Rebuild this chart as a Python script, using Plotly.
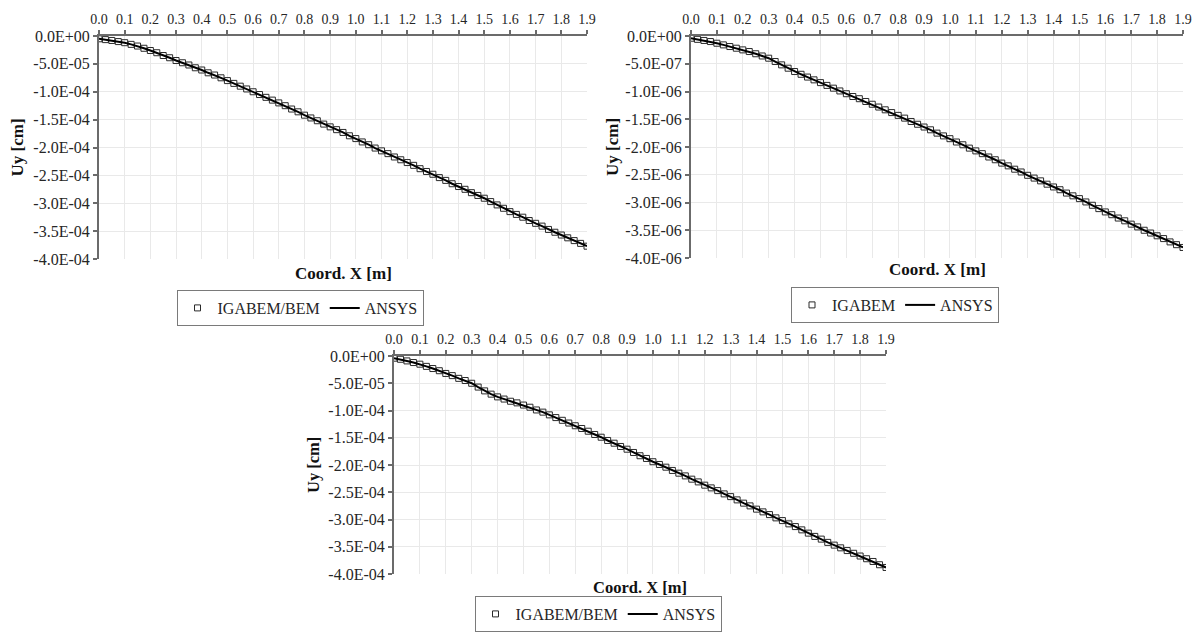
import plotly.graph_objects as go

# ---------------- data ----------------
x_coord = [round(i * 0.025, 3) for i in range(77)]  # Coord. X [m], 0.0 .. 1.9

# top-left chart, Uy in units of 1e-4 cm
uy_a_e4 = [-0.05, -0.065, -0.08, -0.10, -0.12, -0.15, -0.18, -0.22, -0.26, -0.30,
           -0.35, -0.39, -0.44, -0.48, -0.52, -0.57, -0.61, -0.66, -0.70, -0.75,
           -0.80, -0.85, -0.90, -0.95, -1.00, -1.05, -1.10, -1.15, -1.20, -1.25,
           -1.31, -1.36, -1.42, -1.47, -1.52, -1.58, -1.63, -1.68, -1.73, -1.79,
           -1.84, -1.90, -1.95, -2.01, -2.06, -2.11, -2.17, -2.22, -2.27, -2.32,
           -2.38, -2.43, -2.48, -2.54, -2.59, -2.65, -2.70, -2.75, -2.81, -2.86,
           -2.91, -2.97, -3.03, -3.09, -3.15, -3.20, -3.25, -3.31, -3.36, -3.41,
           -3.47, -3.52, -3.57, -3.62, -3.67, -3.72, -3.77]

# top-right chart, Uy in units of 1e-6 cm
uy_b_e6 = [-0.04, -0.06, -0.08, -0.10, -0.13, -0.16, -0.19, -0.22, -0.25, -0.28,
           -0.32, -0.36, -0.40, -0.46, -0.52, -0.58, -0.64, -0.69, -0.74, -0.79,
           -0.84, -0.89, -0.94, -0.99, -1.04, -1.09, -1.13, -1.18, -1.23, -1.28,
           -1.33, -1.38, -1.43, -1.48, -1.54, -1.59, -1.64, -1.69, -1.75, -1.80,
           -1.85, -1.91, -1.96, -2.02, -2.07, -2.12, -2.18, -2.23, -2.29, -2.34,
           -2.40, -2.45, -2.51, -2.56, -2.61, -2.67, -2.72, -2.77, -2.83, -2.88,
           -2.93, -2.99, -3.05, -3.11, -3.17, -3.22, -3.28, -3.33, -3.39, -3.44,
           -3.50, -3.55, -3.60, -3.65, -3.71, -3.76, -3.81]

# bottom chart, Uy in units of 1e-4 cm
uy_c_e4 = [-0.04, -0.06, -0.09, -0.12, -0.15, -0.19, -0.23, -0.27, -0.32, -0.36,
           -0.41, -0.45, -0.50, -0.57, -0.64, -0.70, -0.75, -0.79, -0.83, -0.86,
           -0.90, -0.94, -0.99, -1.03, -1.08, -1.13, -1.18, -1.23, -1.28, -1.33,
           -1.38, -1.44, -1.49, -1.55, -1.60, -1.66, -1.71, -1.77, -1.83, -1.88,
           -1.94, -1.99, -2.04, -2.10, -2.15, -2.20, -2.26, -2.31, -2.37, -2.42,
           -2.47, -2.53, -2.58, -2.64, -2.70, -2.75, -2.81, -2.86, -2.91, -2.97,
           -3.02, -3.08, -3.13, -3.19, -3.25, -3.31, -3.36, -3.42, -3.47, -3.52,
           -3.57, -3.62, -3.67, -3.72, -3.77, -3.83, -3.88]

x_ticks = [round(i * 0.1, 1) for i in range(20)]
x_tick_text = ["%.1f" % v for v in x_ticks]

y_ticks_e4 = [0.0, -0.5e-4, -1.0e-4, -1.5e-4, -2.0e-4, -2.5e-4, -3.0e-4, -3.5e-4, -4.0e-4]
y_text_e4 = ["0.0E+00", "-5.0E-05", "-1.0E-04", "-1.5E-04", "-2.0E-04",
             "-2.5E-04", "-3.0E-04", "-3.5E-04", "-4.0E-04"]
y_ticks_e6 = [0.0, -0.5e-6, -1.0e-6, -1.5e-6, -2.0e-6, -2.5e-6, -3.0e-6, -3.5e-6, -4.0e-6]
y_text_e6 = ["0.0E+00", "-5.0E-07", "-1.0E-06", "-1.5E-06", "-2.0E-06",
             "-2.5E-06", "-3.0E-06", "-3.5E-06", "-4.0E-06"]

legend_names = [("IGABEM/BEM", "ANSYS"), ("IGABEM", "ANSYS"), ("IGABEM/BEM", "ANSYS")]

# ---------------- styling ----------------
W, H = 1200, 632
FONT = "Liberation Serif"
AXIS_COL = "#6b6b6b"
GRID_COL = "#e9e9e9"
TICK_COL = "#262626"


def px_x(p):
    return p / W


def px_y(p):
    return (H - p) / H


panels = [
    dict(x0=99, x1=587, yt=36, yb=259, data=uy_a_e4, scale=1e-4,
         tv=y_ticks_e4, tt=y_text_e4, lx=300, ly=308, xfs=14, yfs=16, afs=17, lfs=16,
         xt_y=273, yt_x=17),
    dict(x0=691, x1=1183, yt=36, yb=258, data=uy_b_e6, scale=1e-6,
         tv=y_ticks_e6, tt=y_text_e6, lx=895, ly=305, xfs=14, yfs=16, afs=17, lfs=16,
         xt_y=269, yt_x=612),
    dict(x0=394, x1=886, yt=356, yb=574, data=uy_c_e4, scale=1e-4,
         tv=y_ticks_e4, tt=y_text_e4, lx=598, ly=614, xfs=14, yfs=16, afs=16.5, lfs=16,
         xt_y=587, yt_x=314),
]

fig = go.Figure()
layout = dict(
    width=W, height=H, margin=dict(l=0, r=0, t=0, b=0, pad=0, autoexpand=False),
    paper_bgcolor="white", plot_bgcolor="white",
    font=dict(family=FONT, color=TICK_COL),
    annotations=[],
)

for i, p in enumerate(panels):
    n = "" if i == 0 else str(i + 1)
    xa, ya = "x" + n, "y" + n
    leg = "legend" + n
    yvals = [v * p["scale"] for v in p["data"]]
    fig.add_trace(go.Scatter(
        x=x_coord, y=yvals, xaxis=xa, yaxis=ya, mode="markers",
        name=legend_names[i][0], legend=leg,
        marker=dict(symbol="square-open", size=6, color="#2a2a2a",
                    line=dict(width=1, color="#2a2a2a")),
    ))
    fig.add_trace(go.Scatter(
        x=x_coord, y=yvals, xaxis=xa, yaxis=ya, mode="lines",
        name=legend_names[i][1], legend=leg,
        line=dict(color="black", width=2),
    ))
    layout["xaxis" + n] = dict(
        domain=[px_x(p["x0"]), px_x(p["x1"])], anchor=ya, side="top",
        range=[0, 1.9], tickvals=x_ticks, ticktext=x_tick_text,
        ticks="outside", ticklen=4, tickcolor=AXIS_COL, tickwidth=1.5,
        showline=True, linecolor=AXIS_COL, linewidth=2,
        showgrid=True, gridcolor=GRID_COL, gridwidth=1, zeroline=False,
        tickfont=dict(family=FONT, size=p["xfs"], color=TICK_COL),
        fixedrange=True, automargin=False,
    )
    layout["yaxis" + n] = dict(
        domain=[px_y(p["yb"]), px_y(p["yt"])], anchor=xa,
        range=[p["tv"][-1], 0], tickvals=p["tv"], ticktext=p["tt"],
        ticks="outside", ticklen=4, tickcolor=AXIS_COL, tickwidth=1.5,
        showline=True, linecolor=AXIS_COL, linewidth=2,
        showgrid=True, gridcolor=GRID_COL, gridwidth=1, zeroline=False,
        tickfont=dict(family=FONT, size=p["yfs"], color=TICK_COL),
        fixedrange=True, automargin=False,
    )
    layout[leg] = dict(
        orientation="h", x=px_x(p["lx"]), y=px_y(p["ly"]),
        xanchor="center", yanchor="middle", xref="paper", yref="paper",
        bgcolor="white", bordercolor="#7a7a7a", borderwidth=1,
        font=dict(family=FONT, size=p["lfs"], color=TICK_COL),
        itemwidth=30, tracegroupgap=0,
    )
    layout["annotations"].append(dict(
        text="<b>Coord. X [m]</b>", xref="paper", yref="paper",
        x=px_x((p["x0"] + p["x1"]) / 2), y=px_y(p["xt_y"]),
        xanchor="center", yanchor="middle", showarrow=False,
        font=dict(family=FONT, size=p["afs"], color="#111111"),
    ))
    layout["annotations"].append(dict(
        text="<b>Uy [cm]</b>", xref="paper", yref="paper", textangle=-90,
        x=px_x(p["yt_x"]), y=px_y((p["yt"] + p["yb"]) / 2),
        xanchor="center", yanchor="middle", showarrow=False,
        font=dict(family=FONT, size=p["afs"], color="#111111"),
    ))

fig.update_layout(**layout)
fig.write_html("out.html")
